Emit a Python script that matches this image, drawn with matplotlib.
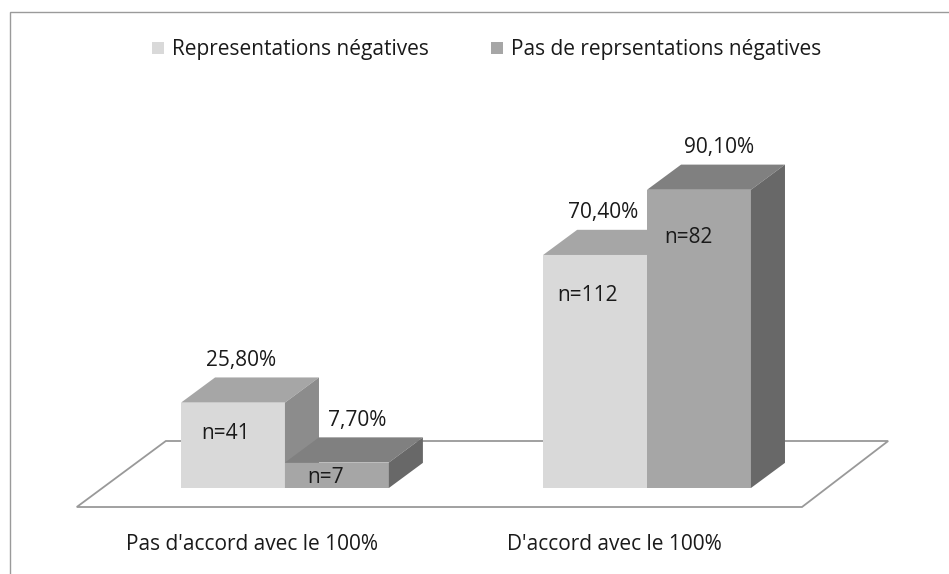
import numpy as np
import matplotlib
matplotlib.use("Agg")
import matplotlib.pyplot as plt
from matplotlib.patches import Polygon, Patch, Rectangle

# data
categories = ["Pas d'accord avec le 100%", "D'accord avec le 100%"]
series_names = ["Representations négatives", "Pas de reprsentations négatives"]
pct_neg = [25.8, 70.4]
pct_noneg = [7.7, 90.1]
n_neg = [41, 112]
n_noneg = [7, 82]
pct_labels_neg = ["25,80%", "70,40%"]
pct_labels_noneg = ["7,70%", "90,10%"]

plt.rcParams['font.family'] = ['Open Sans', 'DejaVu Sans']
txt = '#1a1a1a'

# colours: front, top, side
col_neg = ('#d9d9d9', '#a6a6a6', '#8c8c8c')
col_noneg = ('#a6a6a6', '#808080', '#686868')

fig = plt.figure(figsize=(9.49, 5.74), dpi=100)
ax = fig.add_axes([0, 0, 1, 1])
ax.set_xlim(-0.787, 1.834)
ax.set_ylim(-25.98, 147.43)
ax.axis('off')

# outer chart border
fig.patches.append(Rectangle((10 / 949, -0.1), 1.2, 1.1 - 12 / 574, transform=fig.transFigure,
                             fill=False, edgecolor='#9a9a9a', lw=1.0))

width = 0.287
ddx = 0.094   # depth offset along x (category units)
ddy = 7.6     # depth offset along y (value units)

# floor
floor = Polygon([(-0.575, -5.74), (1.428, -5.74), (1.666, 14.2), (-0.329, 14.2)],
                closed=True, facecolor='white', edgecolor='#999999', lw=1.3, zorder=1)
ax.add_patch(floor)


def bar3d(x0, h, cols):
    front, top, side = cols
    ax.add_patch(Polygon([(x0, 0), (x0 + width, 0), (x0 + width, h), (x0, h)],
                         closed=True, facecolor=front, edgecolor='none', zorder=2))
    ax.add_patch(Polygon([(x0, h), (x0 + width, h), (x0 + width + ddx, h + ddy), (x0 + ddx, h + ddy)],
                         closed=True, facecolor=top, edgecolor='none', zorder=2))
    ax.add_patch(Polygon([(x0 + width, 0), (x0 + width + ddx, ddy), (x0 + width + ddx, h + ddy), (x0 + width, h)],
                         closed=True, facecolor=side, edgecolor='none', zorder=2))


fs = 15
# how far below the bar top the "n=" labels sit
n_drop_neg = [9.4, 12.1]
n_drop_noneg = [4.5, 14.5]
for i in range(len(categories)):
    x1 = i - width
    x2 = i
    bar3d(x1, pct_neg[i], col_neg)
    bar3d(x2, pct_noneg[i], col_noneg)
    ax.text(x1 + width / 2 + ddx * 0.25, pct_neg[i] + ddy + 2, pct_labels_neg[i],
            ha='center', va='bottom', fontsize=fs, color=txt, zorder=5)
    ax.text(x2 + width / 2 + ddx * 0.6, pct_noneg[i] + ddy + 2, pct_labels_noneg[i],
            ha='center', va='bottom', fontsize=fs, color=txt, zorder=5)
    ax.text(x1 + width / 2 - 0.02, pct_neg[i] - n_drop_neg[i], "n=%d" % n_neg[i],
            ha='center', va='center', fontsize=fs, color=txt, zorder=5)
    ax.text(x2 + width / 2 - 0.03, pct_noneg[i] - n_drop_noneg[i], "n=%d" % n_noneg[i],
            ha='center', va='center', fontsize=fs, color=txt, zorder=5)
    ax.text(i - 0.09, -17.2, categories[i], ha='center', va='center', fontsize=fs, color=txt)

handles = [Patch(facecolor=col_neg[0], edgecolor='none'),
           Patch(facecolor=col_noneg[0], edgecolor='none')]
fig.legend(handles, series_names, loc='center', bbox_to_anchor=(0.513, 1 - 50 / 574), ncol=2,
           frameon=False, fontsize=fs, handlelength=0.55, handleheight=0.55,
           handletextpad=0.4, columnspacing=3.0, labelcolor=txt)

fig.savefig("out.png", dpi=100)
